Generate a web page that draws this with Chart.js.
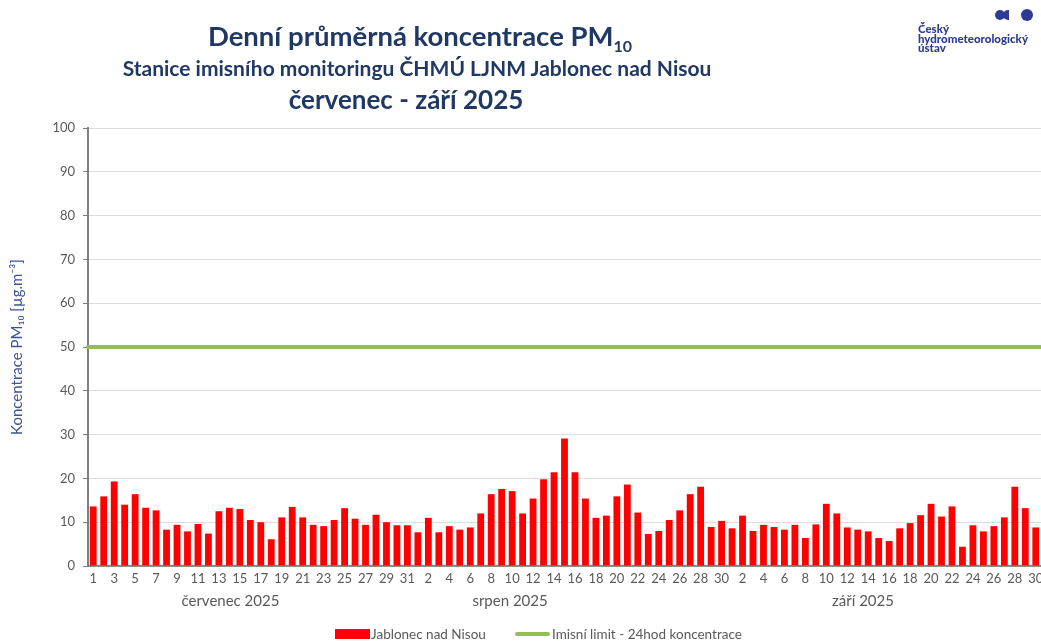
<!DOCTYPE html>
<html>
<head>
<meta charset="utf-8">
<script src="https://cdn.jsdelivr.net/npm/chart.js@4.4.1/dist/chart.umd.min.js"></script>
<style>
html,body{margin:0;padding:0;background:#fff;overflow:hidden;width:1041px;height:644px}
#c{position:absolute;left:0;top:0}
.t{position:absolute;width:830px;text-align:center;color:#1F3864;font-family:Lato,"Open Sans",sans-serif;font-weight:bold;white-space:nowrap}
.t sub{font-size:16px;vertical-align:-6px;line-height:0}
#logo{position:absolute;left:918px;top:24px;font-family:Lato,sans-serif;font-weight:900;font-size:11.5px;line-height:9.5px;color:#2E3A94}
.dot{position:absolute;background:#2E3A94;border-radius:50%}
#legend{position:absolute;top:626px;left:0;width:1041px;height:18px;font-family:Lato,sans-serif;font-size:13.5px;color:#595959}
#legend .item{position:absolute;top:0;height:16px;line-height:16px;white-space:nowrap}
#legend .sw{position:absolute;}
</style>
</head>
<body>
<canvas id="c" width="1041" height="644"></canvas>
<div class="t" style="left:5px;top:21px;font-size:27.5px;line-height:30px">Denní průměrná koncentrace PM<sub>10</sub></div>
<div class="t" style="left:2px;top:57px;font-size:21px;line-height:22px">Stanice imisního monitoringu ČHMÚ LJNM Jablonec nad Nisou</div>
<div class="t" style="left:-9px;top:87px;font-size:26px;line-height:24px">červenec - září 2025</div>
<div class="dot" style="left:995px;top:10px;width:10px;height:10px"></div>
<div class="dot" style="left:1003px;top:10px;width:6px;height:10px;border-radius:5px 0 0 5px"></div>
<div class="dot" style="left:1021px;top:9px;width:12px;height:12px"></div>
<div id="logo">Český<br>hydrometeorologický<br>ústav</div>
<div id="legend"></div>
<script>
// ---- data ----
const julyDays = [1,2,3,4,5,6,7,8,9,10,11,12,13,14,15,16,17,18,19,20,21,22,23,24,25,26,27,28,29,30,31];
const augDays  = [1,2,3,4,5,6,7,8,9,10,11,12,13,14,15,16,17,18,19,20,21,22,23,24,25,26,27,28,29,30,31];
const sepDays  = [2,3,4,5,6,7,8,9,10,11,12,13,14,15,16,17,18,19,20,21,22,23,24,25,26,27,28,29,30];

const julyPM10 = [13.6,15.9,19.3,14.0,16.4,13.3,12.7,8.3,9.4,7.9,9.6,7.4,12.5,13.3,13.0,10.5,10.0,6.1,11.1,13.5,11.1,9.4,9.1,10.5,13.2,10.8,9.4,11.7,10.0,9.3,9.3];
const augPM10  = [7.7,11.0,7.7,9.1,8.3,8.8,12.0,16.4,17.6,17.1,12.0,15.4,19.8,21.4,29.1,21.4,15.4,11.0,11.5,15.9,18.6,12.2,7.3,8.0,10.5,12.7,16.4,18.1,8.9,10.3,8.6];
const sepPM10  = [11.5,8.0,9.4,8.9,8.3,9.4,6.4,9.5,14.2,12.0,8.8,8.3,7.9,6.4,5.7,8.6,9.8,11.6,14.2,11.3,13.6,4.4,9.3,7.9,9.1,11.1,18.1,13.2,8.8];

const monthNames = ['červenec 2025','srpen 2025','září 2025'];
const yTicks = [0,10,20,30,40,50,60,70,80,90,100];
const LIMIT = 50;
const seriesName = 'Jablonec nad Nisou';
const limitName = 'Imisní limit - 24hod koncentrace';

// ---- build ----
const dayLabels = [...julyDays, ...augDays, ...sepDays].map(String);
const pm10 = [...julyPM10, ...augPM10, ...sepPM10];
const limitLine = dayLabels.map(() => LIMIT);

const FONT = 'Lato, "Open Sans", sans-serif';
const GREY = '#595959';
const RED = '#FF0000';
const GREEN = '#92C050';

const monthPos = [13.1, 39.8, 73.5]; // category index where month label is centred
const monthPlugin = {
  id: 'months',
  afterDraw(chart) {
    const x = chart.scales.x;
    const ctx = chart.ctx;
    ctx.save();
    ctx.font = '15px ' + FONT;
    ctx.fillStyle = GREY;
    ctx.textAlign = 'center';
    ctx.textBaseline = 'middle';
    monthNames.forEach((m, i) => {
      ctx.fillText(m, x.getPixelForValue(monthPos[i]), 601);
    });
    ctx.restore();
  }
};

const chart = new Chart(document.getElementById('c'), {
  type: 'bar',
  data: {
    labels: dayLabels,
    datasets: [
      {
        type: 'bar',
        label: seriesName,
        data: pm10,
        backgroundColor: RED,
        borderWidth: 0,
        grouped: false,
        barPercentage: 0.65,
        categoryPercentage: 1.0,
        order: 2
      },
      {
        type: 'line',
        label: limitName,
        data: limitLine,
        xAxisID: 'x2',
        borderColor: GREEN,
        backgroundColor: GREEN,
        borderWidth: 4,
        borderCapStyle: 'round',
        pointRadius: 0,
        fill: false,
        order: 1
      }
    ]
  },
  options: {
    responsive: false,
    animation: false,
    layout: { padding: { top: 128, right: 0, bottom: 0, left: 0 } },
    plugins: {
      legend: { display: false },
      title: { display: false },
      tooltip: { enabled: false }
    },
    scales: {
      x: {
        type: 'category',
        offset: true,
        grid: { display: false, drawTicks: false },
        border: { color: '#8C8C8C', width: 2 },
        ticks: {
          autoSkip: false, maxRotation: 0, minRotation: 0, padding: 5,
          color: GREY, font: { size: 13, family: FONT },
          callback: (v, i) => (i % 2 === 0 ? dayLabels[i] : '')
        },
        afterFit: s => { s.height = 78; s.paddingLeft = 0; s.paddingRight = 0; }
      },
      x2: {
        type: 'category',
        labels: dayLabels,
        offset: false,
        display: false
      },
      y: {
        min: 0, max: 100,
        afterBuildTicks: s => { s.ticks = yTicks.map(v => ({ value: v })); },
        ticks: { padding: 8, color: GREY, font: { size: 13, family: FONT } },
        grid: { color: '#DDDDDD', tickColor: '#7F7F7F', tickLength: 5, lineWidth: 1 },
        border: { color: '#7F7F7F', width: 2 },
        title: {
          display: true,
          text: 'Koncentrace PM₁₀ [µg.m⁻³]',
          color: '#3D5494',
          font: { size: 15, family: FONT },
          padding: { top: 8, bottom: 0 }
        },
        afterFit: s => { s.width = 88; s.paddingTop = 0; s.paddingBottom = 0; }
      }
    }
  },
  plugins: [monthPlugin]
});

// HTML legend built from the datasets
const legend = document.getElementById('legend');
const legendLayout = [{ sw: 335, tx: 371 }, { sw: 515, tx: 552 }];
chart.data.datasets.forEach((ds, i) => {
  const sw = document.createElement('div');
  sw.className = 'sw';
  sw.style.left = legendLayout[i].sw + 'px';
  sw.style.width = '35px';
  if (ds.type === 'bar') {
    sw.style.top = '3px'; sw.style.height = '10px'; sw.style.background = ds.backgroundColor;
  } else {
    sw.style.top = '6px'; sw.style.height = '4px'; sw.style.borderRadius = '2px'; sw.style.background = ds.borderColor;
  }
  legend.appendChild(sw);
  const t = document.createElement('div');
  t.className = 'item';
  t.style.left = legendLayout[i].tx + 'px';
  t.textContent = ds.label;
  legend.appendChild(t);
});
</script>
</body>
</html>
